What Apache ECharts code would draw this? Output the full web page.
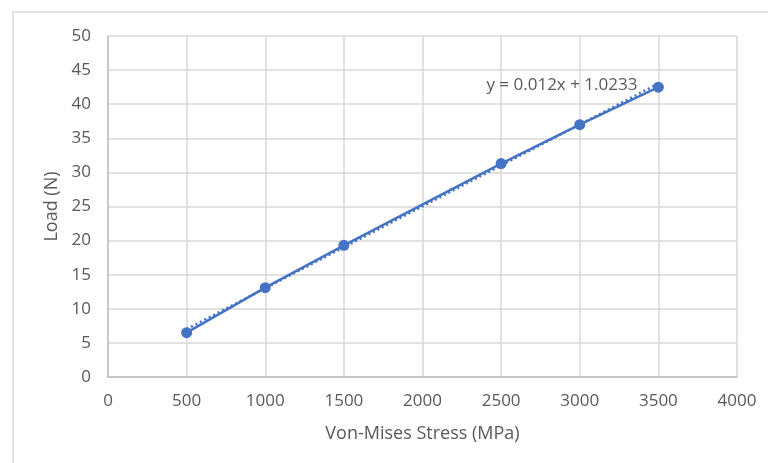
<!DOCTYPE html>
<html>
<head>
<meta charset="utf-8">
<script src="https://cdn.jsdelivr.net/npm/echarts@6/dist/echarts.min.js"></script>
<style>
  html, body { margin: 0; padding: 0; background: #fff; }
  #chart { width: 768px; height: 463px; }
</style>
</head>
<body>
<div id="chart"></div>
<script>
// Measured stress vs. applied load
const stressMPa = [500, 1000, 1500, 2500, 3000, 3500];
const loadN = [6.5, 13.1, 19.3, 31.3, 37.0, 42.5];

// Linear fit reported on the chart
const trendSlope = 0.012;
const trendIntercept = 1.0233;
const trendLabel = 'y = 0.012x + 1.0233';

const xTicks = [0, 500, 1000, 1500, 2000, 2500, 3000, 3500, 4000];
const yTicks = [0, 5, 10, 15, 20, 25, 30, 35, 40, 45, 50];

const points = stressMPa.map((x, i) => [x, loadN[i]]);
const xFirst = stressMPa[0];
const xLast = stressMPa[stressMPa.length - 1];

const textColor = '#595959';
const gridColor = '#d9d9d9';
const blue = '#4472C4';
const font = 'Open Sans, Liberation Sans, sans-serif';

const trendPoints = [
  [xFirst, trendSlope * xFirst + trendIntercept],
  [xLast, trendSlope * xLast + trendIntercept]
];

const chart = echarts.init(document.getElementById('chart'), null, { renderer: 'canvas' });
chart.setOption({
  animation: false,
  backgroundColor: '#fff',
  graphic: [{
    type: 'rect',
    shape: { x: 13, y: 12, width: 800, height: 500 },
    style: { fill: 'none', stroke: gridColor, lineWidth: 1.5 },
    silent: true
  }],
  grid: { left: 108, right: 31, top: 36, bottom: 86 },
  xAxis: {
    type: 'value',
    min: xTicks[0],
    max: xTicks[xTicks.length - 1],
    interval: xTicks[1] - xTicks[0],
    name: 'Von-Mises Stress (MPa)',
    nameLocation: 'middle',
    nameGap: 48,
    nameTextStyle: { color: textColor, fontSize: 18, fontFamily: font },
    axisLine: { show: true, lineStyle: { color: '#bfbfbf', width: 1.5 } },
    axisTick: { show: false },
    axisLabel: { color: textColor, fontSize: 17, fontFamily: font, margin: 16, formatter: v => String(v) },
    splitLine: { show: true, lineStyle: { color: gridColor, width: 1.5 } }
  },
  yAxis: {
    type: 'value',
    min: yTicks[0],
    max: yTicks[yTicks.length - 1],
    interval: yTicks[1] - yTicks[0],
    name: 'Load (N)',
    nameLocation: 'middle',
    nameGap: 47,
    nameTextStyle: { color: textColor, fontSize: 18, fontFamily: font },
    axisLine: { show: true, lineStyle: { color: '#bfbfbf', width: 1.5 } },
    axisTick: { show: false },
    axisLabel: { color: textColor, fontSize: 17, fontFamily: font, margin: 17, formatter: v => String(v) },
    splitLine: { show: true, lineStyle: { color: gridColor, width: 1.5 } }
  },
  series: [
    {
      name: 'Trend',
      type: 'line',
      data: trendPoints,
      symbol: 'circle',
      symbolSize: 2,
      showSymbol: true,
      itemStyle: { color: 'rgba(0,0,0,0)' },
      lineStyle: { color: blue, width: 2.5, type: [2, 3] },
      label: {
        show: true,
        position: 'left',
        distance: 20,
        offset: [0, 2],
        color: textColor,
        fontSize: 17,
        fontFamily: font,
        formatter: p => (p.dataIndex === trendPoints.length - 1 ? trendLabel : '')
      },
      z: 2
    },
    {
      name: 'Load',
      type: 'line',
      data: points,
      symbol: 'circle',
      symbolSize: 11,
      itemStyle: { color: blue },
      lineStyle: { color: blue, width: 2.5 },
      z: 3
    }
  ]
});
</script>
</body>
</html>
